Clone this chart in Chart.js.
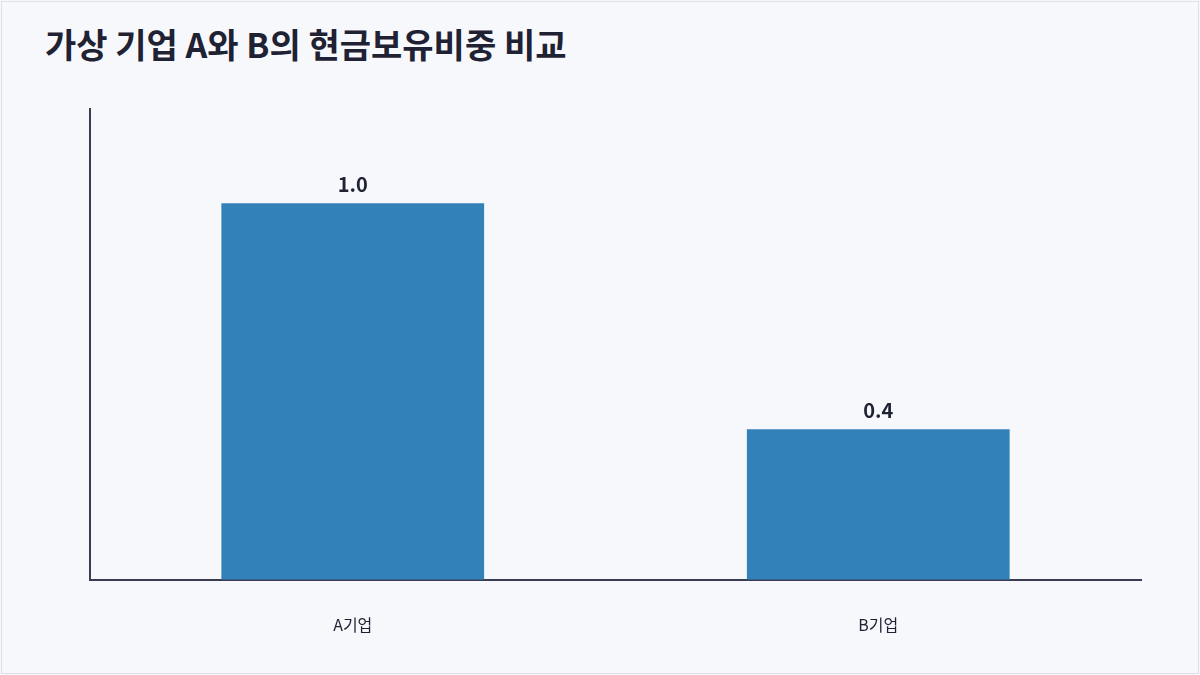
<!DOCTYPE html>
<html><head><meta charset="utf-8">
<script src="https://cdn.jsdelivr.net/npm/chart.js@4/dist/chart.umd.min.js"></script>
<style>
html,body{margin:0;padding:0;background:#f7f8fc;}
#wrap{position:absolute;left:1px;top:1px;width:1196px;height:671px;border:1px solid #dde1ea;background:#f7f8fc;}
#title{position:absolute;left:43px;top:17px;font-family:"Noto Sans CJK KR";font-weight:700;font-size:34px;color:#1f2233;}
#cv{position:absolute;left:0;top:0;}
</style></head><body>
<div id="wrap"><div id="title">가상 기업 A와 B의 현금보유비중 비교</div></div>
<canvas id="cv" width="1200" height="675"></canvas>
<script>
const categories = ["A기업","B기업"];
const cashRatio = [1.0, 0.4];
const labelText = ["1.0","0.4"];
const font = "Noto Sans CJK KR";
const labels = {
  id:'lbl',
  afterDatasetsDraw(c){
    const ctx=c.ctx, m=c.getDatasetMeta(0);
    ctx.save();ctx.font="700 20px '"+font+"'";ctx.fillStyle="#1f2233";ctx.textAlign="center";ctx.textBaseline="bottom";
    m.data.forEach((b,i)=>ctx.fillText(labelText[i],b.x,b.y-9));
    ctx.restore();
  }
};
new Chart(document.getElementById('cv'),{
  type:'bar',
  data:{labels:categories,datasets:[{data:cashRatio,backgroundColor:'#3381b9',categoryPercentage:0.5,barPercentage:1}]},
  options:{responsive:false,animation:false,
    layout:{padding:{left:90,right:59,top:109,bottom:4}},
    plugins:{legend:{display:false},tooltip:{enabled:false}},
    scales:{
      x:{grid:{display:false,drawTicks:false},border:{color:'#3a3d52',width:2},
         ticks:{padding:36,color:'#1f2233',font:{family:font,size:16}}},
      y:{min:0,max:1.25,ticks:{display:false},grid:{display:false,drawTicks:false},border:{color:'#3a3d52',width:2}}
    }},
  plugins:[labels]
});
</script></body></html>
